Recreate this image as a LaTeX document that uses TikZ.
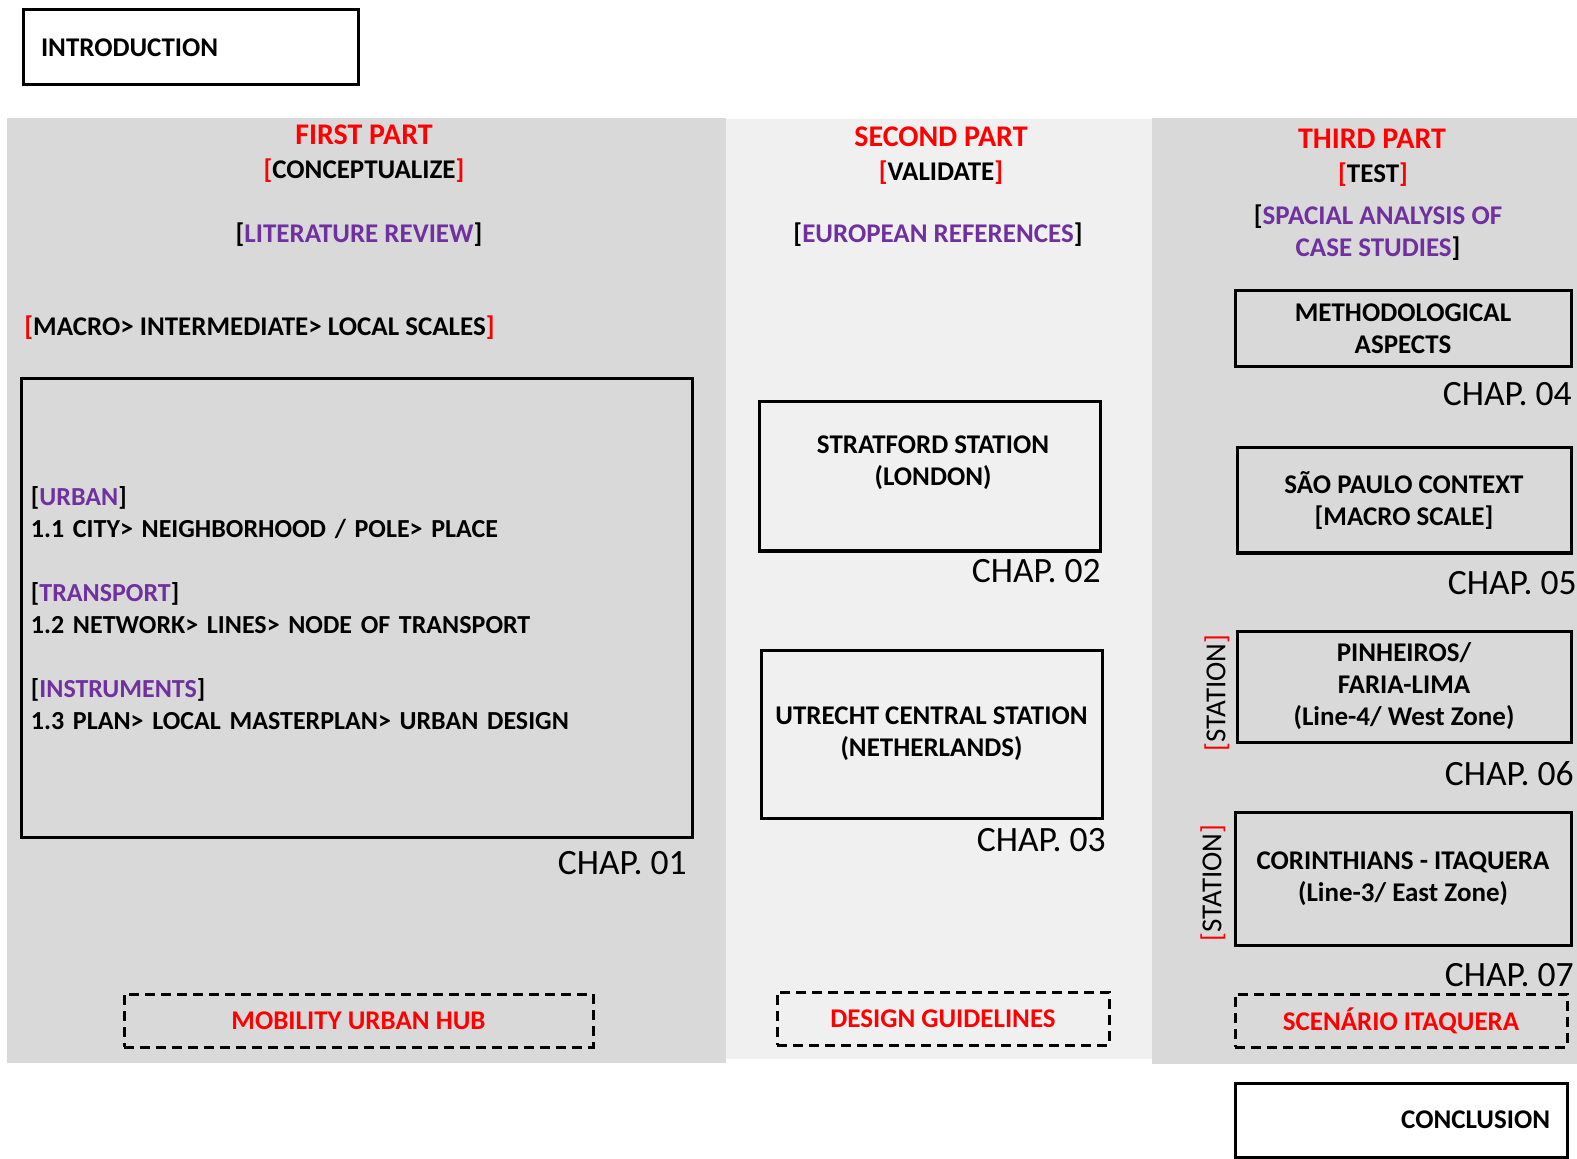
\documentclass[tikz,border=0pt]{standalone}
\usepackage{fontspec}
\setmainfont{Carlito}
\definecolor{partred}{HTML}{FF0000}
\definecolor{tagpurple}{HTML}{7030A0}
\definecolor{panelgray}{HTML}{D9D9D9}
\definecolor{panellight}{HTML}{F0F0F0}
\newcommand{\rb}[1]{\textcolor{partred}{[}#1\textcolor{partred}{]}}
\newcommand{\pb}[1]{[\textcolor{tagpurple}{#1}]}
\tikzset{
  lbl/.style={font=\bfseries\fontsize{13.5}{16}\selectfont, align=center, inner sep=0pt},
  caps/.style={text height=8.7pt, text depth=0pt},
  head/.style={lbl, caps, font=\bfseries\fontsize{15}{18}\selectfont, text height=9.7pt, text=partred},
  box/.style={lbl, draw, line width=1.5pt},
  dbox/.style={box, dash pattern=on 5pt off 3pt, text=partred},
  chap/.style={font=\fontsize{17.8}{21}\selectfont, inner sep=0pt, text height=11.5pt, text depth=0pt, anchor=east},
  station/.style={font=\fontsize{14.5}{17}\selectfont, inner sep=0pt, text height=9.3pt, text depth=0pt, rotate=90},
}
\begin{document}
\begin{tikzpicture}[x=0.5pt, y=-0.5pt]
  \useasboundingbox (0,0) rectangle (1577,1159);
  % panels
  \fill[panelgray] (7,118) rectangle (726,1063);
  \fill[panellight] (726,119) rectangle (1152,1059);
  \fill[panelgray] (1152,118) rectangle (1577,1064);
  %nodes
  \node[box, minimum width=167.5pt, minimum height=37.5pt, text width=149.5pt, inner xsep=9pt, align=left] at (190.5,47.5) (intro) {INTRODUCTION};
  % first part
  \node[head] at (364,135) (first) {FIRST PART};
  \node[lbl, caps] at (364,170) (conc) {\rb{CONCEPTUALIZE}};
  \node[lbl, caps] at (359,234) (litrev) {\pb{LITERATURE REVIEW}};
  \node[lbl, caps, anchor=west] at (24,327) (scales) {\rb{MACRO> INTERMEDIATE> LOCAL SCALES}};
  \node[box, font=\bfseries\fontsize{13}{16}\selectfont, minimum width=335.5pt, minimum height=229pt, text width=325.5pt, inner xsep=5pt, align=left] at (356.5,608) (themes)
    {\pb{URBAN}\\1.1 CITY> NEIGHBORHOOD / POLE> PLACE\\[16pt]\pb{TRANSPORT}\\1.2 NETWORK> LINES> NODE OF TRANSPORT\\[16pt]\pb{INSTRUMENTS}\\1.3 PLAN> LOCAL MASTERPLAN> URBAN DESIGN};
  \node[chap] at (687,863) (chap1) {CHAP. 01};
  \node[dbox, minimum width=234.5pt, minimum height=26.5pt] at (358.5,1020.5) (hub) {MOBILITY URBAN HUB};
  % second part
  \node[head] at (941,137) (second) {SECOND PART};
  \node[lbl, caps] at (941,172) (valid) {\rb{VALIDATE}};
  \node[lbl, caps] at (938,234) (euro) {\pb{EUROPEAN REFERENCES}};
  \node[box, minimum width=170.5pt, minimum height=74.5pt] at (929.5,476.5) (stratford) {};
  \node[lbl] at (933,462.5) (stratfordtxt) {STRATFORD STATION\\(LONDON)};
  \node[chap] at (1101,571) (chap2) {CHAP. 02};
  \node[box, minimum width=170.5pt, minimum height=84pt] at (931.5,734) (utrecht) {UTRECHT CENTRAL STATION\\(NETHERLANDS)};
  \node[chap] at (1106,840) (chap3) {CHAP. 03};
  \node[dbox, minimum width=166pt, minimum height=26.5pt] at (943,1018.5) (guide) {DESIGN GUIDELINES};
  % third part
  \node[head] at (1372,139) (third) {THIRD PART};
  \node[lbl, caps] at (1373,174) (test) {\rb{TEST}};
  \node[lbl] at (1378,232.5) (spacial) {[\textcolor{tagpurple}{SPACIAL ANALYSIS OF}\\\textcolor{tagpurple}{CASE STUDIES}]};
  \node[box, minimum width=168pt, minimum height=38pt] at (1403,329) (method) {METHODOLOGICAL\\ASPECTS};
  \node[chap] at (1572,394) (chap4) {CHAP. 04};
  \node[box, minimum width=167pt, minimum height=52.5pt] at (1404,500.5) (saopaulo) {SÃO PAULO CONTEXT\\{[MACRO SCALE]}};
  \node[chap] at (1577,583) (chap5) {CHAP. 05};
  \node[box, minimum width=167pt, minimum height=55.5pt] at (1404,686.5) (pinheiros) {PINHEIROS/\\FARIA-LIMA\\(Line-4/ West Zone)};
  \node[station] at (1216,693) (station1) {\rb{STATION}};
  \node[chap] at (1574,774) (chap6) {CHAP. 06};
  \node[box, minimum width=168pt, minimum height=66.5pt] at (1403,878.5) (corinth) {CORINTHIANS - ITAQUERA\\(Line-3/ East Zone)};
  \node[station] at (1212,883) (station2) {\rb{STATION}};
  \node[chap] at (1574,975) (chap7) {CHAP. 07};
  \node[dbox, minimum width=166pt, minimum height=26.5pt] at (1401,1020.5) (scenario) {SCENÁRIO ITAQUERA};
  \node[box, minimum width=166pt, minimum height=37pt, text width=149pt, inner xsep=8.5pt, align=right] at (1401,1120) (concl) {CONCLUSION};
\end{tikzpicture}
\end{document}
